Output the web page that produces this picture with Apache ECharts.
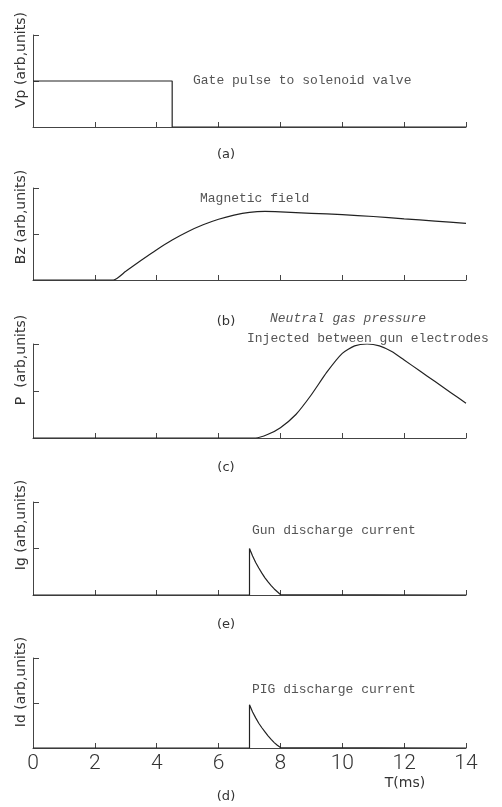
<!DOCTYPE html>
<html>
<head>
<meta charset="utf-8">
<script src="https://cdn.jsdelivr.net/npm/echarts@6/dist/echarts.min.js"></script>
<style>
    html, body { margin: 0; padding: 0; background: #fff; }
    #chart { width: 502px; height: 807px; }
</style>
</head>
<body>
<div id="chart"></div>
<script>
    // time axis ticks (ms)
    const timeTicks = [0, 2, 4, 6, 8, 10, 12, 14];

    // (a) gate pulse
    const pulseT = [0, 4.5, 4.5, 14];
    const pulseV = [1.0, 1.0, 0, 0];

    // (b) magnetic field
    const fieldT = [0, 2.6, 3.0, 3.5, 4.0, 4.5, 5.0, 5.5, 6.0, 6.5, 7.0, 7.5, 8.0, 9.0, 10.0, 11.0, 12.0, 13.0, 14.0];
    const fieldV = [0, 0, 0.19, 0.43, 0.66, 0.87, 1.05, 1.2, 1.32, 1.41, 1.47, 1.49, 1.48, 1.45, 1.42, 1.38, 1.33, 1.28, 1.23];

    // (c) neutral gas pressure
    const gasT = [0, 7.2, 7.6, 8.0, 8.5, 9.0, 9.5, 10.0, 10.4, 10.8, 11.2, 11.6, 12.0, 12.5, 13.0, 13.5, 14.0];
    const gasV = [0, 0, 0.08, 0.22, 0.5, 0.92, 1.4, 1.8, 1.96, 2.0, 1.96, 1.84, 1.66, 1.43, 1.2, 0.97, 0.74];

    // (e) gun discharge current
    const gunT = [0, 7.0, 7.0, 7.1, 7.2, 7.3, 7.4, 7.5, 7.6, 7.7, 7.8, 7.9, 8.0, 14];
    const gunV = [0, 0, 1.0, 0.84, 0.7, 0.58, 0.47, 0.37, 0.28, 0.2, 0.13, 0.07, 0.01, 0];

    // (d) PIG discharge current
    const pigT = [0, 7.0, 7.0, 7.1, 7.2, 7.3, 7.4, 7.5, 7.6, 7.7, 7.8, 7.9, 8.0, 14];
    const pigV = [0, 0, 0.96, 0.8, 0.67, 0.55, 0.45, 0.36, 0.27, 0.19, 0.12, 0.06, 0.01, 0];

    const panelTops = [35, 188, 344, 502, 658];
    const panelHeights = [92, 92, 94, 93, 90];
    const yNames = ['Vp (arb,units)', 'Bz (arb,units)', 'P  (arb,units)', 'Ig (arb,units)', 'Id (arb,units)'];
    const yNameCenters = [60, 217, 360, 525, 682];
    const panelTags = [['(a)', 155], ['(b)', 322], ['(c)', 468], ['(e)', 625], ['(d)', 797]];

    const zip = (xs, ys) => xs.map((x, i) => [x, ys[i]]);

    const myChart = echarts.init(document.getElementById('chart'));

    const grids = [];
    const xAxes = [];
    const yAxes = [];
    panelTops.forEach((top, i) => {
        grids.push({ left: 33, right: 36, top: top, height: panelHeights[i] });
        xAxes.push({
            type: 'value',
            gridIndex: i,
            min: timeTicks[0],
            max: timeTicks[timeTicks.length - 1],
            interval: 2,
            splitLine: { show: false },
            axisLine: { lineStyle: { color: '#444', width: 1 } },
            axisTick: { inside: true, length: 5, lineStyle: { color: '#444' } },
            axisLabel: {
                show: i === panelTops.length - 1,
                color: '#333',
                fontSize: 21,
                fontFamily: 'Roboto',
                fontWeight: 300,
                margin: 5
            }
        });
        yAxes.push({
            type: 'value',
            gridIndex: i,
            min: 0,
            max: 2,
            interval: 1,
            splitLine: { show: false },
            axisLine: { show: true, lineStyle: { color: '#444', width: 1 } },
            axisTick: { show: true, inside: true, length: 6, lineStyle: { color: '#444' } },
            axisLabel: { show: false }
        });
    });

    const lineSeries = (idx, xs, ys, smooth) => ({
        type: 'line',
        xAxisIndex: idx,
        yAxisIndex: idx,
        data: zip(xs, ys),
        smooth: smooth,
        showSymbol: false,
        lineStyle: { color: '#222', width: 1.2 },
        silent: true
    });

    const monoText = (x, y, text, italic) => ({
        type: 'text',
        left: x,
        top: y,
        style: {
            text: text,
            fill: '#555',
            fontFamily: 'Liberation Mono',
            fontStyle: italic ? 'italic' : 'normal',
            fontSize: 13
        }
    });

    const graphics = [];
    yNames.forEach((name, i) => {
        graphics.push({
            type: 'text',
            x: 21,
            y: yNameCenters[i],
            rotation: Math.PI / 2,
            style: {
                text: name,
                fill: '#333',
                fontFamily: 'DejaVu Sans',
                fontSize: 14,
                align: 'center',
                verticalAlign: 'middle'
            }
        });
    });
    panelTags.forEach(([tag, y]) => {
        graphics.push({
            type: 'text',
            x: 226,
            y: y,
            style: {
                text: tag,
                fill: '#333',
                fontFamily: 'DejaVu Sans',
                fontSize: 13,
                align: 'center',
                verticalAlign: 'middle'
            }
        });
    });
    graphics.push(monoText(193, 74, 'Gate pulse to solenoid valve'));
    graphics.push(monoText(200, 192, 'Magnetic field'));
    graphics.push(monoText(270, 312, 'Neutral gas pressure', true));
    graphics.push(monoText(247, 332, 'Injected between gun electrodes'));
    graphics.push(monoText(252, 524, 'Gun discharge current'));
    graphics.push(monoText(252, 683, 'PIG discharge current'));
    graphics.push({
        type: 'text',
        x: 405,
        y: 783,
        style: {
            text: 'T(ms)',
            fill: '#333',
            fontFamily: 'DejaVu Sans',
            fontSize: 14,
            align: 'center',
            verticalAlign: 'middle'
        }
    });

    myChart.setOption({
        animation: false,
        backgroundColor: '#fff',
        grid: grids,
        xAxis: xAxes,
        yAxis: yAxes,
        series: [
            lineSeries(0, pulseT, pulseV, false),
            lineSeries(1, fieldT, fieldV, 0.2),
            lineSeries(2, gasT, gasV, 0.2),
            lineSeries(3, gunT, gunV, false),
            lineSeries(4, pigT, pigV, false)
        ],
        graphic: graphics
    });
</script>
</body>
</html>
